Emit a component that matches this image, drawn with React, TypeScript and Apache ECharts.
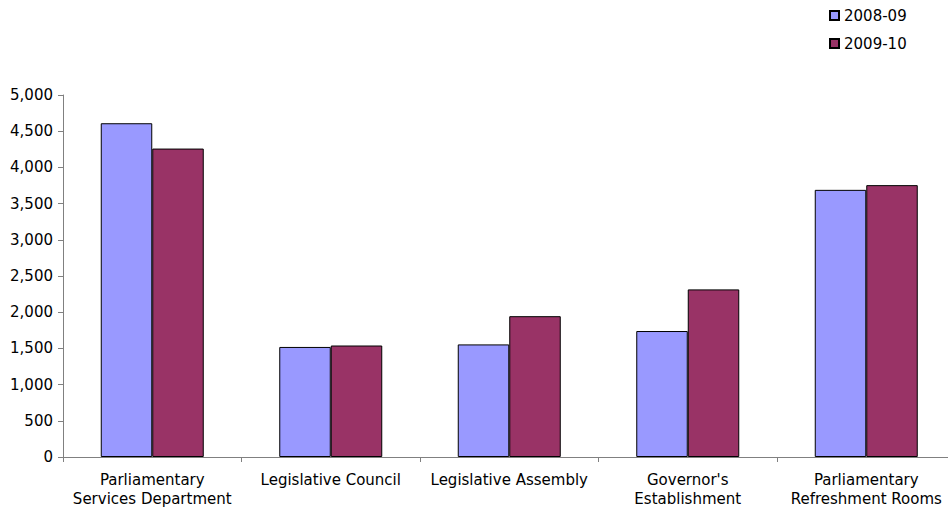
import React, { useEffect, useRef } from "react";
import * as echarts from "echarts";

const categories = [
  "Parliamentary\nServices Department",
  "Legislative Council",
  "Legislative Assembly",
  "Governor's\nEstablishment",
  "Parliamentary\nRefreshment Rooms",
];
const series2008 = [4610, 1520, 1555, 1740, 3690];
const series2009 = [4260, 1540, 1945, 2315, 3755];
const yTicks = { min: 0, max: 5000, interval: 500 };

const FONT = "DejaVu Sans";
const FONT_SIZE = 15;

export default function App() {
  const ref = useRef<HTMLDivElement>(null);

  useEffect(() => {
    if (!ref.current) return;
    const chart = echarts.init(ref.current, undefined, { renderer: "svg" });
    chart.setOption({
      animation: false,
      backgroundColor: "#ffffff",
      textStyle: { fontFamily: FONT },
      legend: {
        orient: "vertical",
        left: 829,
        top: 7,
        padding: 0,
        itemWidth: 9,
        itemHeight: 9,
        itemGap: 11,
        icon: "rect",
        textStyle: { fontFamily: FONT, fontSize: FONT_SIZE, color: "#000", lineHeight: 17 },
        data: ["2008-09", "2009-10"],
      },
      // the plot runs a little past the right edge of the visible page
      grid: { left: 63, top: 95, width: 892.5, height: 363 },
      xAxis: {
        type: "category",
        data: categories,
        axisLine: { lineStyle: { color: "#808080", width: 1 } },
        axisTick: { show: true, length: 5, lineStyle: { color: "#808080" } },
        axisLabel: {
          fontFamily: FONT,
          fontSize: FONT_SIZE,
          color: "#000",
          margin: 13,
          lineHeight: 19,
          interval: 0,
        },
      },
      yAxis: {
        type: "value",
        min: yTicks.min,
        max: yTicks.max,
        interval: yTicks.interval,
        splitLine: { show: false },
        axisLine: { show: true, lineStyle: { color: "#808080", width: 1 } },
        axisTick: { show: true, length: 5, lineStyle: { color: "#808080" } },
        axisLabel: {
          fontFamily: FONT,
          fontSize: FONT_SIZE,
          color: "#000",
          margin: 10,
          formatter: (v: number) => v.toLocaleString("en-US"),
        },
      },
      series: [
        {
          name: "2008-09",
          type: "bar",
          data: series2008,
          barWidth: 51.5,
          barGap: "0%",
          itemStyle: { color: "#9999FF", borderColor: "#000", borderWidth: 1 },
        },
        {
          name: "2009-10",
          type: "bar",
          data: series2009,
          barWidth: 51.5,
          barGap: "0%",
          itemStyle: { color: "#993366", borderColor: "#000", borderWidth: 1 },
        },
      ],
    });
    return () => chart.dispose();
  }, []);

  return (
    <div
      style={{
        position: "fixed",
        left: 0,
        top: 0,
        width: 948,
        height: 508,
        overflow: "hidden",
      }}
    >
      <div ref={ref} style={{ width: 964, height: 508 }} />
    </div>
  );
}
